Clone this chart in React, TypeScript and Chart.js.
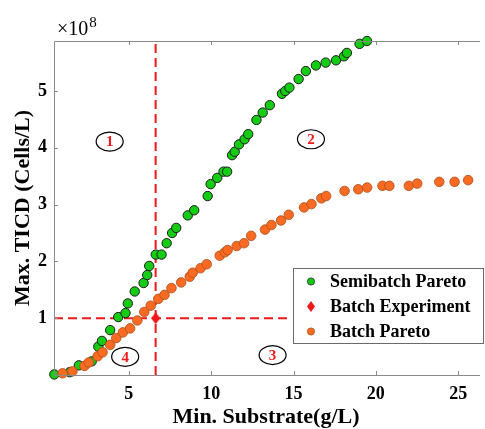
import React, { useEffect, useRef } from "react";
import { Chart, registerables } from "chart.js";

Chart.register(...registerables);

// ---- data (y values in units of 1e8 cells/L) ----
const semibatchX = [0.48, 1.42, 1.97, 2.75, 3.15, 3.37, 3.87, 4.36, 4.80, 4.94, 5.36, 5.90, 6.12, 6.24, 6.64, 6.99, 7.30, 7.63, 7.88, 8.58, 8.97, 9.79, 9.97, 10.37, 10.75, 10.97, 11.27, 11.43, 11.69, 12.03, 12.25, 12.75, 13.13, 13.56, 14.30, 14.50, 14.75, 15.31, 15.75, 16.36, 16.95, 17.58, 18.06, 18.24, 19.01, 19.46];
const semibatchY = [0.01, 0.05, 0.17, 0.24, 0.50, 0.60, 0.79, 1.02, 1.09, 1.26, 1.47, 1.62, 1.76, 1.92, 2.12, 2.12, 2.32, 2.50, 2.59, 2.81, 2.90, 3.15, 3.36, 3.47, 3.58, 3.58, 3.87, 3.93, 4.06, 4.15, 4.24, 4.49, 4.62, 4.75, 4.95, 5.00, 5.06, 5.21, 5.35, 5.45, 5.50, 5.54, 5.61, 5.67, 5.83, 5.88];

const batchParetoX = [0.98, 1.58, 2.31, 2.57, 3.11, 3.41, 3.87, 4.24, 4.64, 5.08, 5.52, 5.94, 6.33, 6.79, 7.17, 7.59, 8.18, 8.70, 8.88, 9.36, 9.73, 10.52, 10.83, 11.00, 11.55, 12.00, 12.43, 13.27, 13.66, 14.24, 14.71, 15.64, 16.09, 16.69, 16.98, 18.10, 18.93, 19.47, 20.40, 20.82, 22.00, 22.51, 23.85, 24.78, 25.60];
const batchParetoY = [0.03, 0.065, 0.16, 0.22, 0.33, 0.40, 0.53, 0.65, 0.75, 0.82, 0.96, 1.11, 1.22, 1.34, 1.41, 1.53, 1.63, 1.73, 1.80, 1.88, 1.95, 2.10, 2.16, 2.20, 2.27, 2.32, 2.45, 2.56, 2.64, 2.72, 2.82, 2.95, 3.01, 3.11, 3.15, 3.24, 3.27, 3.30, 3.33, 3.33, 3.33, 3.37, 3.40, 3.40, 3.43];

const batchExpX = [6.63];
const batchExpY = [1.0];

const xTicks = [5, 10, 15, 20, 25];
const yTicks = [1, 2, 3, 4, 5];
const xMin = 0.46;
const xMax = 26.2;
const yMin = 0;
const yMax = 5.88;
const hLineEndX = 14.8;

const regionNames = ["1", "2", "3", "4"];
const regionX = [3.84, 16.06, 13.73, 4.78];
const regionY = [4.11, 4.15, 0.35, 0.32];

const legendLabels = ["Semibatch Pareto", "Batch Experiment", "Batch Pareto"];
const exponentText = "8";

// ---- styles ----
const SERIF = "'Liberation Serif', 'Times New Roman', serif";
const GREEN = "#14cc14";
const ORANGE = "#fb6a22";
const RED = "#f01818";
const AXIS = "#8a8a8a";

function makeDiamond(w: number, h: number) {
  const c = document.createElement("canvas");
  c.width = w;
  c.height = h;
  const g = c.getContext("2d")!;
  g.fillStyle = RED;
  g.beginPath();
  g.moveTo(w / 2, 0);
  g.lineTo(w, h / 2);
  g.lineTo(w / 2, h);
  g.lineTo(0, h / 2);
  g.closePath();
  g.fill();
  return c;
}

const decorPlugin = {
  id: "decor",
  afterDatasetsDraw(chart: any) {
    const { ctx, scales } = chart;
    const xs = scales.x;
    const ys = scales.y;
    ctx.save();
    for (let i = 0; i < regionNames.length; i++) {
      const cx = xs.getPixelForValue(regionX[i]);
      const cy = ys.getPixelForValue(regionY[i]);
      ctx.beginPath();
      ctx.ellipse(cx, cy, 13.5, 9.5, 0, 0, Math.PI * 2);
      ctx.strokeStyle = "#000";
      ctx.lineWidth = 1.2;
      ctx.stroke();
      ctx.fillStyle = RED;
      ctx.font = `bold 15px ${SERIF}`;
      ctx.textAlign = "center";
      ctx.textBaseline = "middle";
      ctx.fillText(regionNames[i], cx, cy + 1);
    }
    ctx.restore();
  },
  afterDraw(chart: any) {
    const { ctx, chartArea: ca, scales } = chart;
    const xs = scales.x;
    const ys = scales.y;
    ctx.save();
    // axes box
    ctx.strokeStyle = AXIS;
    ctx.lineWidth = 1;
    ctx.beginPath();
    ctx.moveTo(ca.left + 0.5, ca.bottom + 0.5);
    ctx.lineTo(ca.left + 0.5, ca.top + 0.5);
    ctx.lineTo(ca.right + 2, ca.top + 0.5);
    ctx.moveTo(ca.left + 0.5, ca.bottom + 0.5);
    ctx.lineTo(ca.right + 2, ca.bottom + 0.5);
    ctx.stroke();
    // inward tick marks
    const tl = 4;
    ctx.beginPath();
    xTicks.forEach((v) => {
      const px = Math.round(xs.getPixelForValue(v)) + 0.5;
      ctx.moveTo(px, ca.bottom);
      ctx.lineTo(px, ca.bottom - tl);
      ctx.moveTo(px, ca.top);
      ctx.lineTo(px, ca.top + tl);
    });
    yTicks.forEach((v) => {
      const py = Math.round(ys.getPixelForValue(v)) + 0.5;
      ctx.moveTo(ca.left, py);
      ctx.lineTo(ca.left + tl, py);
    });
    ctx.stroke();

    // exponent label
    ctx.fillStyle = "#000";
    ctx.textAlign = "left";
    ctx.textBaseline = "alphabetic";
    ctx.font = `20px ${SERIF}`;
    ctx.fillText("\u00d710", ca.left + 3, ca.top - 6);
    const w = ctx.measureText("\u00d710").width;
    ctx.font = `15px ${SERIF}`;
    ctx.fillText(exponentText, ca.left + 3 + w + 1, ca.top - 14);

    // legend
    const lx = ca.right - 185;
    const ly = ca.top + 227;
    const lw = 190;
    const lh = 75;
    ctx.fillStyle = "#fff";
    ctx.fillRect(lx, ly, lw, lh);
    ctx.strokeStyle = "#6a6a6a";
    ctx.lineWidth = 1;
    ctx.strokeRect(lx + 0.5, ly + 0.5, lw, lh);
    const mx = lx + 18;
    const rows = [ly + 13.5, ly + 38.5, ly + 63.5];
    // markers
    ctx.beginPath();
    ctx.arc(mx, rows[0], 3.6, 0, Math.PI * 2);
    ctx.fillStyle = GREEN;
    ctx.fill();
    ctx.strokeStyle = "#222";
    ctx.lineWidth = 0.8;
    ctx.stroke();
    ctx.beginPath();
    ctx.moveTo(mx, rows[1] - 5.5);
    ctx.lineTo(mx + 4, rows[1]);
    ctx.lineTo(mx, rows[1] + 5.5);
    ctx.lineTo(mx - 4, rows[1]);
    ctx.closePath();
    ctx.fillStyle = RED;
    ctx.fill();
    ctx.beginPath();
    ctx.arc(mx, rows[2], 3.6, 0, Math.PI * 2);
    ctx.fillStyle = ORANGE;
    ctx.fill();
    ctx.strokeStyle = "#a8501c";
    ctx.stroke();
    ctx.fillStyle = "#000";
    ctx.font = `bold 18px ${SERIF}`;
    ctx.textBaseline = "middle";
    ctx.textAlign = "left";
    legendLabels.forEach((t, i) => ctx.fillText(t, lx + 37, rows[i] + 1));
    ctx.restore();
  },
};

export default function App() {
  const ref = useRef<HTMLCanvasElement | null>(null);
  useEffect(() => {
    if (!ref.current) return;
    const diamond = makeDiamond(9, 12);
    const chart = new Chart(ref.current, {
      type: "scatter",
      data: {
        datasets: [
          {
            label: "vline",
            data: [
              { x: batchExpX[0], y: yMin },
              { x: batchExpX[0], y: yMax },
            ],
            showLine: true,
            borderColor: RED,
            borderWidth: 2,
            borderDash: [9, 5],
            pointRadius: 0,
            order: 10,
          },
          {
            label: "hline",
            data: [
              { x: xMin, y: batchExpY[0] },
              { x: hLineEndX, y: batchExpY[0] },
            ],
            showLine: true,
            borderColor: RED,
            borderWidth: 2,
            borderDash: [9, 5],
            pointRadius: 0,
            order: 10,
          },
          {
            label: legendLabels[0],
            data: semibatchX.map((x, i) => ({ x, y: semibatchY[i] })),
            backgroundColor: GREEN,
            borderColor: "#1c1c1c",
            borderWidth: 1,
            pointRadius: 4.7,
            clip: false,
            order: 3,
          },
          {
            label: legendLabels[2],
            data: batchParetoX.map((x, i) => ({ x, y: batchParetoY[i] })),
            backgroundColor: ORANGE,
            borderColor: "#a8501c",
            borderWidth: 0.8,
            pointRadius: 4.8,
            clip: false,
            order: 2,
          },
          {
            label: legendLabels[1],
            data: batchExpX.map((x, i) => ({ x, y: batchExpY[i] })),
            pointStyle: diamond as any,
            pointRadius: 6,
            clip: false,
            order: 1,
          },
        ],
      },
      options: {
        animation: false,
        responsive: false,
        events: [],
        layout: { padding: { top: 41, right: 0, bottom: 0, left: 0 } },
        plugins: { legend: { display: false }, tooltip: { enabled: false } },
        scales: {
          x: {
            type: "linear",
            min: xMin,
            max: xMax,
            grid: { display: false, drawTicks: false },
            border: { display: false },
            afterBuildTicks: (s: any) => {
              s.ticks = xTicks.map((v) => ({ value: v }));
            },
            afterFit: (s: any) => {
              s.height = 54;
            },
            ticks: {
              color: "#000",
              padding: 9,
              maxRotation: 0,
              font: { family: SERIF, size: 18, weight: "bold" },
            },
            title: {
              display: true,
              text: "Min. Substrate(g/L)",
              color: "#000",
              padding: { top: 0, bottom: 0 },
              font: { family: SERIF, size: 22, weight: "bold", lineHeight: 1.1 },
            },
          },
          y: {
            type: "linear",
            min: yMin,
            max: yMax,
            grid: { display: false, drawTicks: false },
            border: { display: false },
            afterBuildTicks: (s: any) => {
              s.ticks = yTicks.map((v) => ({ value: v }));
            },
            afterFit: (s: any) => {
              s.width = 54;
            },
            ticks: {
              color: "#000",
              padding: 7,
              font: { family: SERIF, size: 18, weight: "bold" },
            },
            title: {
              display: true,
              text: "Max. TICD (Cells/L)",
              color: "#000",
              padding: { top: 11, bottom: 0 },
              font: { family: SERIF, size: 22, weight: "bold", lineHeight: 1.1 },
            },
          },
        },
      },
      plugins: [decorPlugin],
    });
    return () => chart.destroy();
  }, []);
  return (
    <div style={{ position: "fixed", left: 0, top: 0, width: 485, height: 429, background: "#fff" }}>
      <canvas ref={ref} width={485} height={429} style={{ display: "block" }} />
    </div>
  );
}
